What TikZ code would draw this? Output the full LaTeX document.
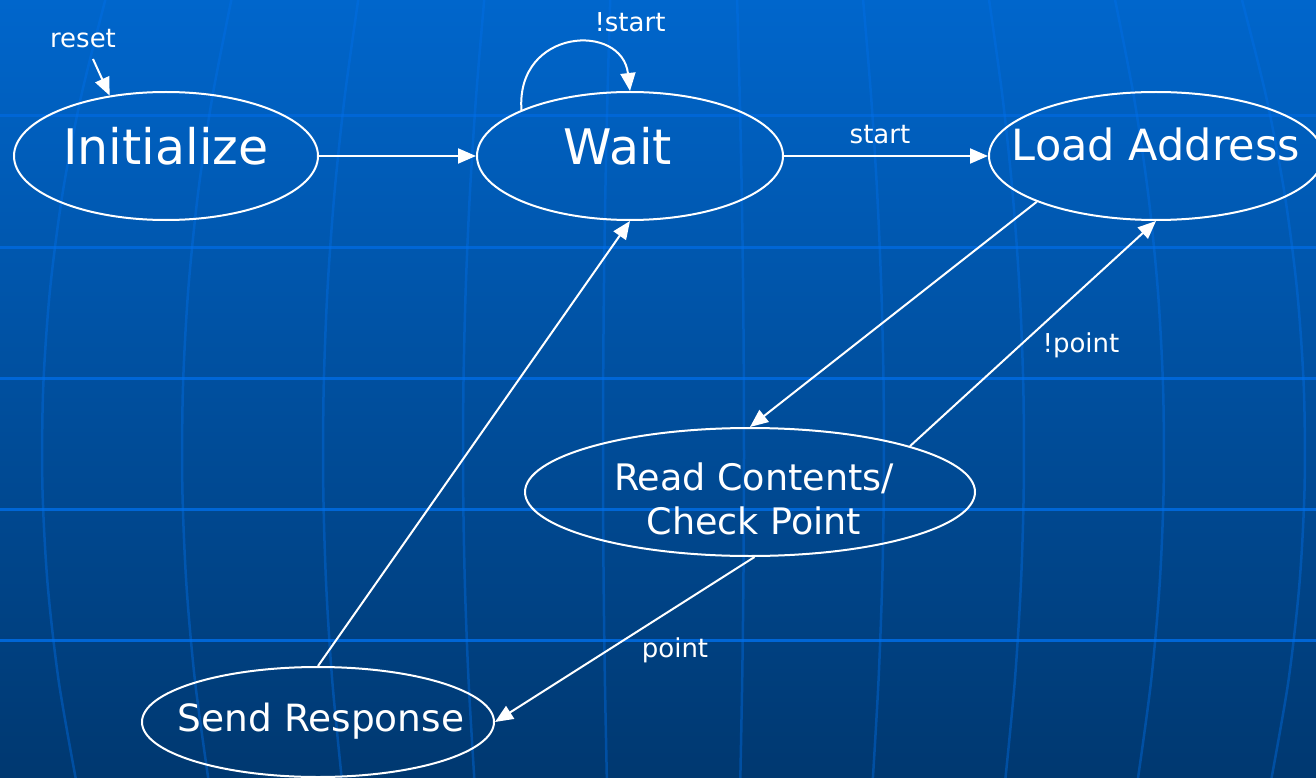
\documentclass[tikz,border=0pt]{standalone}
\usepackage{fontspec}
\setmainfont{DejaVu Sans}
\usetikzlibrary{shapes.geometric, arrows.meta}

\definecolor{bgtop}{RGB}{0,102,204}
\definecolor{bgbot}{RGB}{0,56,112}
\definecolor{latcol}{RGB}{0,102,214}
\definecolor{mercol}{RGB}{0,112,235}

\begin{document}
\begin{tikzpicture}[x=1pt, y=-1pt,
 state/.style={draw=white, line width=2pt, ellipse, inner sep=0pt},
 stext/.style={text=white, inner sep=0pt},
 trans/.style={draw=white, line width=2pt, -{Triangle[length=18pt, width=15pt]}},
 lbl/.style={text=white, anchor=base, inner sep=0pt, font=\fontsize{26}{31}\selectfont},
 latline/.style={latcol, line width=3pt},
 meridian/.style={mercol, opacity=0.4, line width=2.5pt}]
\useasboundingbox (0,0) rectangle (1316,778);
\shade[top color=bgtop, bottom color=bgbot] (0,0) rectangle (1316,778);

\foreach \y in {116,247,378,509,640} {
 \draw[latline] (0,\y)--(1316,\y);
}
\foreach \c in {42,182,323,463,603,744,884,1024,1164,1305} {
 \draw[meridian] plot[smooth, domain=0:778, samples=9] ({675+(\c-675)*(1-0.1*((\x-450)/450)^2)}, \x);
}

\node[state, minimum width=304pt, minimum height=128pt,
 label={[stext, font=\fontsize{49}{59}\selectfont, yshift=9.5pt]center:Initialize}] (init) at (166,156) {};
\node[state, minimum width=306pt, minimum height=128pt,
 label={[stext, font=\fontsize{49}{59}\selectfont, xshift=-12pt, yshift=9.5pt]center:Wait}] (wait) at (630,156) {};
\node[state, minimum width=334pt, minimum height=128pt,
 label={[stext, font=\fontsize{43}{52}\selectfont, yshift=12pt]center:Load Address}] (load) at (1156,156) {};
\node[state, minimum width=450pt, minimum height=128pt,
 label={[stext, align=center, font=\fontsize{36.5}{44}\selectfont, xshift=4pt, yshift=-7pt]center:Read Contents/\\Check Point}] (read) at (750,492) {};
\node[state, minimum width=352pt, minimum height=110pt,
 label={[stext, font=\fontsize{37.5}{45}\selectfont, xshift=3pt, yshift=1pt]center:Send Response}] (send) at (318,722) {};

\coordinate (resetfrom) at (93,59);
\draw[trans] (resetfrom)--(init.133);
\draw[trans] (init.east)--(wait.west);
\draw[trans] (wait.157) .. controls (516,28) and (622,22) .. (wait.north);
\draw[trans] (wait.east)--(load.west);
\draw[trans] (load.201)--(read.north);
\draw[trans] (read.16.6)--(load.south);
\draw[trans] (read.-86)--(send.east);
\draw[trans] (send.north)--(wait.south);

\node[lbl] (lreset) at (83,48) {reset};
\node[lbl] (lnstart) at (630,32) {!start};
\node[lbl] (lstart) at (880,144) {start};
\node[lbl] (lnpoint) at (1081,352) {!point};
\node[lbl] (lpoint) at (675,657) {point};

\end{tikzpicture}
\end{document}
